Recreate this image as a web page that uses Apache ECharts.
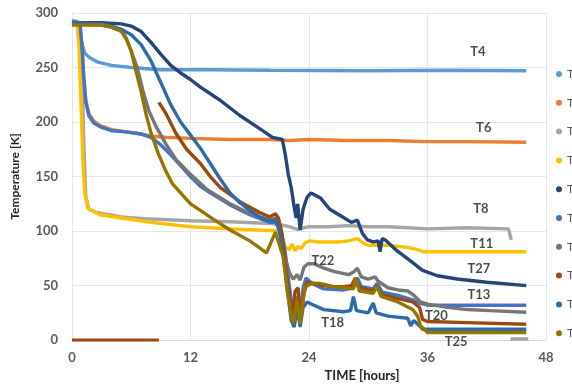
<!DOCTYPE html>
<html><head><meta charset="utf-8">
<script src="https://cdn.jsdelivr.net/npm/echarts@6/dist/echarts.min.js"></script>
<style>html,body{margin:0;padding:0;background:#fff}#c{width:572px;height:387px}</style>
</head><body><div id="c"></div>
<script>
// ---- data (hours, Kelvin) ----
const xTicks = [0, 12, 24, 36, 48];
const yTicks = [0, 50, 100, 150, 200, 250, 300];
const seriesNames = ['T4','T6','T8','T11','T27','T13','T22','T20','T18','T25'];
const seriesColors = ['#5B9BD5','#ED7D31','#A5A5A5','#FFC000','#264478','#4472C4','#767676','#9E480E','#2C6BA8','#957500'];

const t4 = [[0,293],[0.6,292],[0.8,285],[1.0,272],[1.3,263],[1.8,259],[2.6,255],[4,252],[6,250],[9,248],[14,248],[20,247.5],[30,247],[38,247.5],[46,247]];
const t6 = [[0,290],[0.8,289],[1.0,270],[1.2,240],[1.4,220],[1.7,208],[2.2,201],[2.8,197],[4,193],[5.5,191],[7,189],[8,187],[9.5,186],[12,185],[16,184],[20,184],[22,183],[24,184],[28,183],[32,183],[36,182],[40,182],[46,181.5]];
const t8 = [[0,290],[0.8,289],[1.0,250],[1.2,180],[1.4,132],[1.7,120],[2.5,117],[5,113],[8,111],[12,109.5],[16,108.5],[20,107],[21,106],[22,104],[22.8,101.5],[24,104],[26,104],[28,105],[30,104],[32,104],[34,103],[36,102],[40,103],[44.2,102],[44.4,95],[44.5,92],[44.55,'-'],[44.4,1],[46.2,1]];
const t11 = [[0,290],[0.5,290],[0.7,270],[0.9,220],[1.1,165],[1.3,135],[1.6,121],[2.8,115],[5,112],[8,108],[12,104],[16,102],[20,100.5],[21,100],[21.3,95],[21.6,85],[22,83],[22.3,88],[22.6,82],[22.9,86],[23.2,84],[23.6,89],[24,91],[25,90],[26,90],[27,90],[28,91],[28.9,93],[29.5,89],[30,87],[32,87],[33,86],[34,85],[35,83],[35.5,81],[38,81],[42,81],[46,81]];
const t27 = [[0,291],[3,291],[5,290],[6,288],[7,283],[8,273],[9,262],[10,252],[11,245],[12,239],[13,232],[15,220],[17,206],[19,194],[20.3,186],[21.3,184],[21.6,170],[21.9,152],[22.2,140],[22.5,122],[22.7,112],[22.85,125],[23.1,101],[23.4,120],[23.8,131],[24.2,135],[25.2,130],[26.1,120],[27.2,114],[28.3,108],[28.9,110],[29.4,98],[29.9,92],[30.5,90],[31,91],[31.2,81],[31.4,93],[31.7,92],[32.9,82],[34.5,71],[35.5,64],[37,59],[39,56],[42,53],[46,50]];
const t13 = [[0,292],[0.8,291],[1.0,270],[1.2,240],[1.4,218],[1.7,206],[2.2,199],[3,195],[4,192],[5.5,191],[7,189],[8,186],[9,179],[10,170],[11,160],[12,150],[13,141],[14,135],[16,124],[18,115],[20,108],[20.7,108],[21.2,100],[21.6,80],[22,50],[22.3,30],[22.5,18],[22.8,40],[23.1,22],[23.4,48],[23.7,57],[24.3,52],[25.5,47],[27.5,46],[28.5,48],[28.9,57],[29.3,49],[30.5,47],[30.9,52],[31.4,44],[33,41],[34.5,37],[35.2,34],[36,32],[40,32],[46,32]];
const t22 = [[0,290],[3,289],[4,287],[5,284],[5.5,277],[6,265],[6.6,250],[7.2,228],[7.8,210],[8.5,196],[9.5,180],[10.5,166],[12,152],[13.7,138],[16,125],[18,116],[20,110],[20.6,112],[21.1,105],[21.5,80],[21.7,72],[22,62],[22.4,56],[22.8,60],[23.1,55],[23.5,67],[23.9,70],[24.5,70],[25.5,66],[26.5,63],[28,60],[28.6,63],[28.9,66],[29.3,58],[30,56],[30.7,58],[31,54],[32,48],[33,46],[34,45],[34.5,42],[35.3,35],[36,33],[38,30],[40,28],[42.3,27],[46,25.5]];
const t20 = [[0,0],[8.8,0],[8.85,'-'],[8.8,218],[9.5,208],[10.5,190],[11.6,175],[13,162],[14,150],[15,140],[17,127],[19,117],[20,113],[20.6,116],[20.9,112],[21.2,100],[21.6,70],[22,40],[22.3,22],[22.6,45],[22.9,48],[23.1,22],[23.4,40],[23.8,53],[24.5,52],[25.5,50],[26.5,49],[27.5,49],[28.3,50],[28.7,57],[29.1,48],[30,46],[30.6,45],[30.9,50],[31.3,42],[33,38],[34.5,35],[35.2,30],[35.5,19],[36,17],[40,16],[46,14.5]];
const t18 = [[0,291],[3,290],[4,288],[5,285],[6,280],[7,271],[8,256],[9,236],[10,216],[11,200],[12,188],[13,176],[14,162],[15,148],[16,135],[17,126],[18,119],[19,113],[20,109],[20.6,110],[21,100],[21.5,70],[21.9,40],[22.2,18],[22.5,12],[22.8,30],[23.1,12],[23.4,30],[23.8,35],[24.5,32],[25.5,28],[27.5,26],[28.2,27],[28.5,40],[28.8,27],[30,25],[30.5,34],[30.8,25],[32,22],[34,20],[34.3,13],[34.6,18],[35.2,13],[35.5,10],[40,10],[46,10]];
const t25 = [[0,289],[3,289],[4,287],[5,283],[5.5,276],[6,265],[6.5,246],[7,228],[7.5,207],[8,190],[8.7,172],[9.5,155],[10.2,143],[11,135],[12,125],[13,119],[14.3,111],[16,101],[18,91],[19.7,80],[20.6,99],[21.4,76],[21.8,45],[22.1,28],[22.4,15],[22.8,37],[23.1,15],[23.6,49],[24.3,52],[25.1,52],[26.5,49],[27.5,48],[28.5,47],[28.7,57],[29.1,45],[30.5,43],[30.9,49],[31.3,40],[33,35],[34.5,28],[35,22],[35.3,13],[36,7],[40,7],[46,7]];
const seriesData = [t4, t6, t8, t11, t27, t13, t22, t20, t18, t25];

// in-chart labels (hours, Kelvin)
const labelNames = ['T4','T6','T8','T11','T27','T13','T22','T20','T18','T25'];
const labelX = [41.1, 41.7, 41.4, 41.5, 41.2, 41.2, 25.4, 36.9, 26.4, 38.9];
const labelY = [264.7, 194.9, 120.5, 87.9, 65.3, 41.7, 72.5, 22.7, 15.4, -1.8];

const FONT = 'Lato, "Open Sans", sans-serif';
const chart = echarts.init(document.getElementById('c'), null, {renderer: 'canvas'});

const lineSeries = seriesNames.map((n, i) => ({
  name: n, type: 'line', data: seriesData[i], showSymbol: false, symbol: 'circle',
  lineStyle: {width: 3.4, color: seriesColors[i]}, itemStyle: {color: seriesColors[i]},
  connectNulls: false, animation: false, z: 2 + i
}));

const labelSeries = {
  type: 'scatter', name: '_labels', symbolSize: 0, silent: true, clip: false, z: 30,
  data: labelNames.map((n, i) => [labelX[i], labelY[i], n]),
  label: {show: true, position: 'inside', formatter: p => p.value[2],
    fontFamily: FONT, fontWeight: 'bold', fontSize: 13, color: '#1e1e1e'},
  animation: false
};

chart.setOption({
  animation: false,
  backgroundColor: '#fff',
  grid: {left: 72, right: 26, top: 13, bottom: 43, containLabel: false},
  legend: {
    data: seriesNames, orient: 'vertical', left: 551, top: 62,
    icon: 'circle', itemWidth: 6, itemHeight: 6, itemGap: 14.8,
    textStyle: {fontFamily: FONT, fontSize: 12, color: '#595959', lineHeight: 14}
  },
  xAxis: {
    type: 'value', min: xTicks[0], max: xTicks[xTicks.length - 1], interval: 12,
    name: 'TIME [hours]', nameLocation: 'middle', nameGap: 27,
    nameTextStyle: {fontFamily: FONT, fontWeight: 'bold', fontSize: 13, color: '#262626', padding: [0, 0, 0, 106]},
    axisLine: {show: true, lineStyle: {color: '#D9D9D9'}},
    axisTick: {show: false},
    axisLabel: {fontFamily: FONT, fontWeight: 'bold', fontSize: 13, color: '#595959', margin: 11},
    splitLine: {show: true, lineStyle: {color: '#E6E6E6'}}
  },
  yAxis: {
    type: 'value', min: yTicks[0], max: yTicks[yTicks.length - 1], interval: 50,
    name: 'Temperature [K]', nameLocation: 'middle', nameGap: 51,
    nameTextStyle: {fontFamily: FONT, fontWeight: 'bold', fontSize: 12, color: '#262626'},
    axisLine: {show: true, lineStyle: {color: '#E6E6E6'}},
    axisTick: {show: false},
    axisLabel: {fontFamily: FONT, fontWeight: 'bold', fontSize: 13, color: '#595959', margin: 14},
    splitLine: {show: true, lineStyle: {color: '#E6E6E6'}}
  },
  series: [...lineSeries, labelSeries]
});
</script></body></html>
